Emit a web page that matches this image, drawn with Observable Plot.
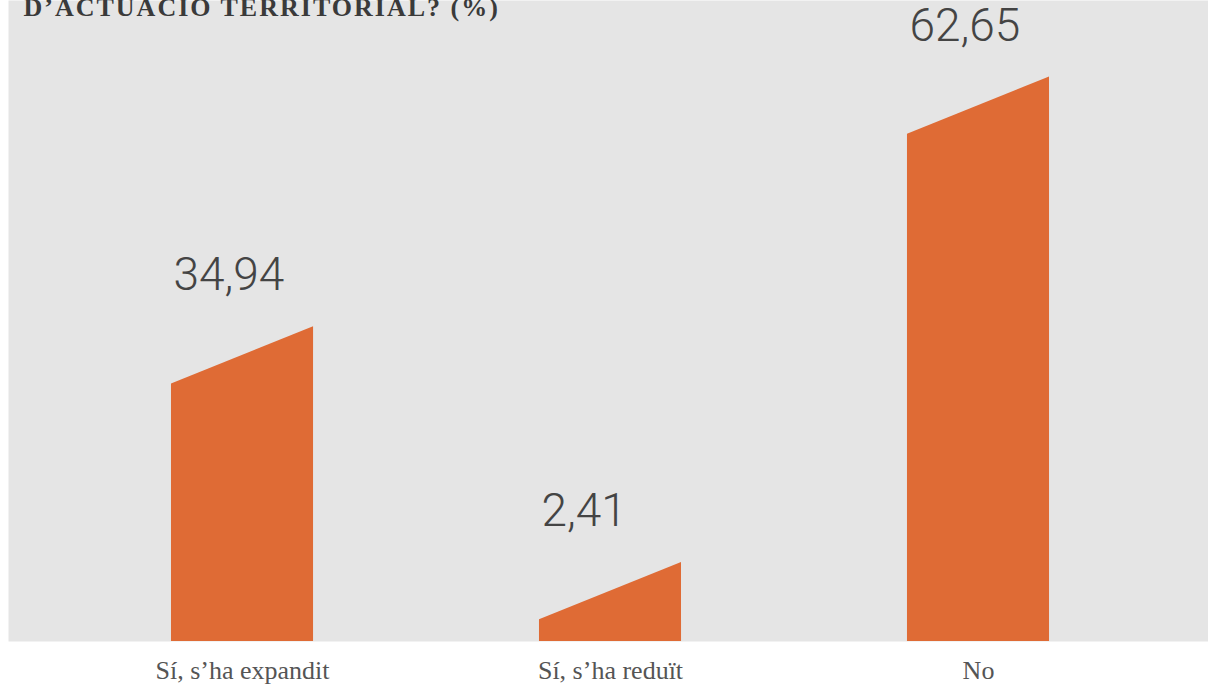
<!DOCTYPE html>
<html>
<head>
<meta charset="utf-8">
<script src="https://cdn.jsdelivr.net/npm/d3@7"></script>
<script src="https://cdn.jsdelivr.net/npm/@observablehq/plot@0.6"></script>
<style>
  html, body { margin: 0; padding: 0; background: #ffffff; overflow: hidden; }
  #chart svg { display: block; }
</style>
</head>
<body>
<div id="chart"></div>
<script>
// ---- data ----
const categories = ["Sí, s’ha expandit", "Sí, s’ha reduït", "No"];
const values = [34.94, 2.41, 62.65];
const valueLabels = ["34,94", "2,41", "62,65"];
const titleLines = ["D’ACTUACIÓ TERRITORIAL? (%)"];

// ---- style / layout constants ----
const W = 1208, H = 684;
const orange = "#df6b35";
const panel = "#e5e5e5";
const halfW = 0.193;   // half bar width in category units
const slant = 6.36;    // height drop of the slanted top (value units)

const rows = categories.map((c, i) => {
  const right = values[i] > slant ? values[i] : values[i] + slant;
  return {cat: c, i, value: values[i], label: valueLabels[i], right, left: right - slant};
});
const shape = rows.flatMap(r => [
  {cat: r.cat, x: r.i - halfW, y: r.left},
  {cat: r.cat, x: r.i + halfW, y: r.right}
]);

const chart = Plot.plot({
  width: W,
  height: H,
  marginLeft: 8,
  marginRight: 0,
  marginTop: 0,
  marginBottom: 43,
  x: {type: "linear", domain: [-0.6359, 2.625], axis: null},
  y: {domain: [0, 71.14], axis: null},
  style: {background: "transparent", overflow: "visible"},
  marks: [
    Plot.frame({fill: panel, stroke: null}),
    Plot.areaY(shape, {x: "x", y: "y", z: "cat", fill: orange, curve: "linear"}),
    Plot.text(rows, {
      x: d => d.i - halfW, y: "right", text: "label",
      textAnchor: "start", lineAnchor: "middle", dy: -51, dx: 2,
      fontFamily: "Roboto", fontWeight: 300, fontSize: 46, fill: "#444"
    }),
    Plot.text(rows, {
      x: "i", y: () => 0, text: "cat",
      textAnchor: "middle", lineAnchor: "middle", dy: 29,
      fontFamily: "Liberation Serif", fontSize: 26, fill: "#555"
    }),
    Plot.text(titleLines, {
      frameAnchor: "top-left", text: d => d,
      textAnchor: "start", lineAnchor: "middle", dx: 15, dy: 7,
      fontFamily: "Liberation Serif", fontWeight: "bold", fontSize: 26, fill: "#3a3a3a"
    })
  ]
});
// widen the title's tracking to match the reference slab face
chart.querySelectorAll("text").forEach(t => {
  if (titleLines.includes(t.textContent)) t.setAttribute("letter-spacing", "2");
});
document.getElementById("chart").appendChild(chart);
</script>
</body>
</html>
